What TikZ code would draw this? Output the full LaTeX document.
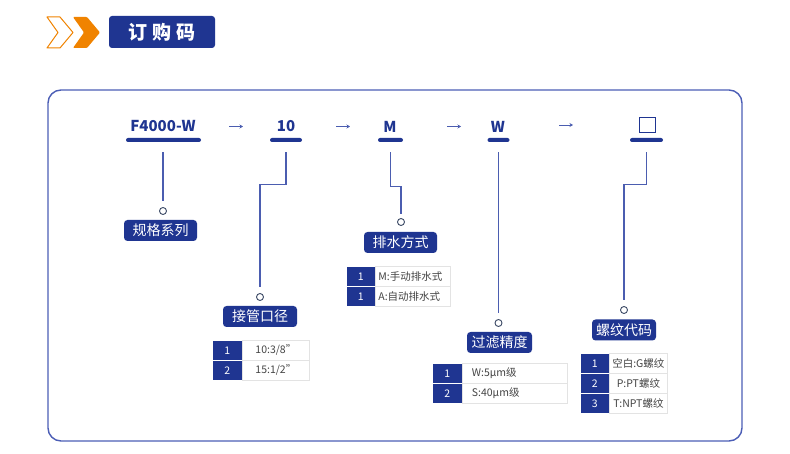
\documentclass[tikz,border=0pt]{standalone}
\usepackage{fontspec}
\setmainfont{Noto Sans CJK SC}
\usetikzlibrary{arrows.meta,positioning}
\definecolor{navy}{HTML}{1F3591}
\definecolor{conn}{HTML}{4B5DB0}
\definecolor{frame}{HTML}{4C5EB6}
\definecolor{orng}{HTML}{F08300}
\definecolor{tgray}{HTML}{E3E3E3}
\definecolor{ttext}{HTML}{444444}
\definecolor{ring}{HTML}{3C4A66}
\tikzset{
  code/.style={text=navy, font=\bfseries\fontsize{15}{17}\selectfont, inner sep=0},
  bar/.style={fill=navy, rounded corners=2pt, minimum height=4pt, inner sep=0},
  ring/.style={circle, draw=ring, line width=0.9pt, fill=white, minimum size=7pt, inner sep=0},
  tag/.style={fill=navy, rounded corners=3.5pt, text=white, font=\fontsize{14}{16}\selectfont, minimum height=21pt, inner sep=0},
  conline/.style={draw=conn, line width=1.1pt},
  cellA/.style={fill=navy, draw=white, line width=0.7pt, minimum height=20pt, text=white, font=\fontsize{10.5}{12}\selectfont, inner sep=0, anchor=north west},
  cellB/.style={fill=white, draw=tgray, line width=0.8pt, minimum height=20pt, text=ttext, font=\fontsize{10.5}{12}\selectfont, inner sep=0, anchor=north west},
  arr/.style={draw=conn, line width=0.8pt, -{Stealth[length=3.5pt,width=4pt]}}
}
\begin{document}
\begin{tikzpicture}[x=1pt,y=-1pt]
\useasboundingbox (0,0) rectangle (790,454);
\fill[white] (0,0) rectangle (790,454);
% header
\draw[orng, line width=1pt, line join=round, fill=white] (47,17) -- (60,17) -- (73,32.5) -- (60,48) -- (47,48) -- (58,32.5) -- cycle;
\fill[orng, rounded corners=1pt] (73,17) -- (87,17) -- (100,32.5) -- (87,48) -- (73,48) -- (84,32.5) -- cycle;
\node[fill=navy, rounded corners=3pt, minimum width=106pt, minimum height=32pt, inner sep=0, text=white, font=\bfseries\fontsize{19}{21}\selectfont] (title) at (162,32) {订\hspace{5pt}购\hspace{5pt}码};
% frame
\draw[frame, line width=1.4pt, rounded corners=13pt] (48,90) rectangle (742,441);
% codes
\node[code] (c1) at (163,126.5) {F4000-W};
\node[code] (c2) at (286,126.5) {10};
\node[code] (c3) at (390,126.5) {M};
\node[code] (c4) at (498,126.5) {W};
\node[draw=navy, line width=1pt, minimum width=16pt, minimum height=15pt, inner sep=0] (c5) at (647,125.5) {};
\node[bar, minimum width=75pt] (b1) at (163.5,140) {};
\node[bar, minimum width=32pt] (b2) at (286,140) {};
\node[bar, minimum width=25pt] (b3) at (390.5,140) {};
\node[bar, minimum width=22pt] (b4) at (498.5,140) {};
\node[bar, minimum width=33pt] (b5) at (646.5,140) {};
% arrows
\coordinate (a1s) at (229,126.5); \coordinate (a1e) at (243,126.5);
\coordinate (a2s) at (336,126.5); \coordinate (a2e) at (350,126.5);
\coordinate (a3s) at (447,126.5); \coordinate (a3e) at (461,126.5);
\coordinate (a4s) at (559,125); \coordinate (a4e) at (573,125);
\draw[arr] (a1s) -- (a1e);
\draw[arr] (a2s) -- (a2e);
\draw[arr] (a3s) -- (a3e);
\draw[arr] (a4s) -- (a4e);
% rings
\node[ring] (o1) at (163,211) {};
\node[ring] (o2) at (260,297) {};
\node[ring] (o3) at (401,222) {};
\node[ring] (o4) at (498.5,323) {};
\node[ring] (o5) at (624,310) {};
% tags
\node[tag, minimum width=73pt] (l1) at (160.5,230.5) {规格系列};
\node[tag, minimum width=74pt] (l2) at (260,316.5) {接管口径};
\node[tag, minimum width=73pt] (l3) at (400.5,242.5) {排水方式};
\node[tag, minimum width=65pt] (l4) at (499.5,342.5) {过滤精度};
\node[tag, minimum width=64pt] (l5) at (624,330) {螺纹代码};
% connectors
\draw[conline] ([yshift=-10pt]b1.south -| o1) -- ([yshift=6pt]o1.north);
\draw[conline] ([yshift=-10pt]b2.south) -- ++(0,32) -| ([yshift=6pt]o2.north);
\draw[conline] ([yshift=-10pt]b3.south) -- ++(0,34) -| ([yshift=4pt]o3.north);
\draw[conline] ([yshift=-10pt]b4.south -| o4) -- ([yshift=6pt]o4.north);
\draw[conline] ([yshift=-10pt]b5.south) -- ++(0,32) -| ([yshift=6pt]o5.north);
% table 2 (接管口径)
\node[cellA, minimum width=30pt] (t2a1) at (212,340) {1};
\node[cellB, minimum width=67pt] (t2b1) at (242,340) {10:3/8\char34};
\node[cellA, minimum width=30pt] (t2a2) at (212,360) {2};
\node[cellB, minimum width=67pt] (t2b2) at (242,360) {15:1/2\char34};
% table 3 (排水方式)
\node[cellA, minimum width=29pt] (t3a1) at (346,266) {1};
\node[cellB, minimum width=75pt, text width=69pt, align=left] (t3b1) at (375,266) {M:手动排水式};
\node[cellA, minimum width=29pt] (t3a2) at (346,286) {1};
\node[cellB, minimum width=75pt, text width=69pt, align=left] (t3b2) at (375,286) {A:自动排水式};
% table 4 (过滤精度)
\node[cellA, minimum width=30pt] (t4a1) at (432,363) {1};
\node[cellB, minimum width=105pt, text width=86pt, align=left] (t4b1) at (462,363) {W:5μm级};
\node[cellA, minimum width=30pt] (t4a2) at (432,383) {2};
\node[cellB, minimum width=105pt, text width=86pt, align=left] (t4b2) at (462,383) {S:40μm级};
% table 5 (螺纹代码)
\node[cellA, minimum width=29pt] (t5a1) at (580,353) {1};
\node[cellB, minimum width=58pt] (t5b1) at (609,353) {空白:G螺纹};
\node[cellA, minimum width=29pt] (t5a2) at (580,373) {2};
\node[cellB, minimum width=58pt] (t5b2) at (609,373) {P:PT螺纹};
\node[cellA, minimum width=29pt] (t5a3) at (580,393) {3};
\node[cellB, minimum width=58pt] (t5b3) at (609,393) {T:NPT螺纹};
\end{tikzpicture}
\end{document}
